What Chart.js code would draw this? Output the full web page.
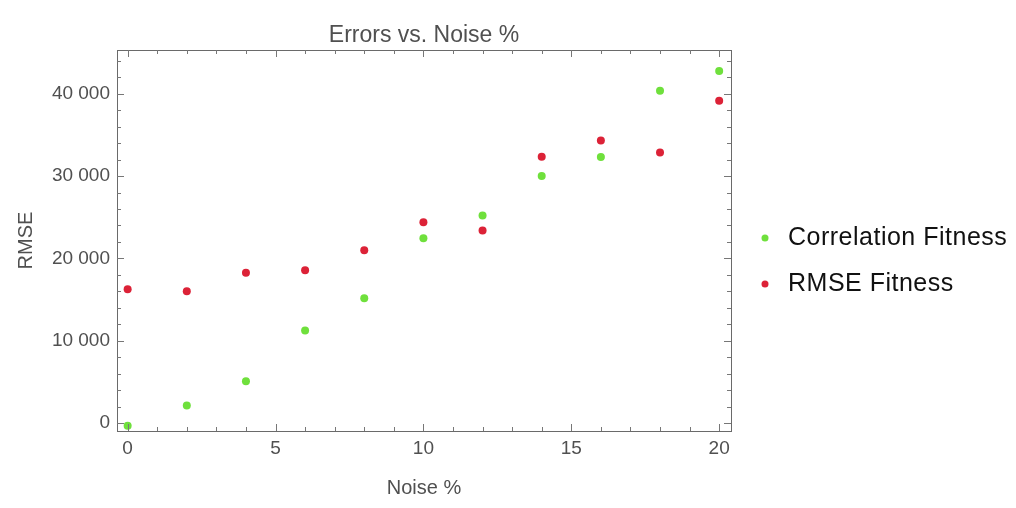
<!DOCTYPE html>
<html>
<head>
<meta charset="utf-8">
<script src="https://cdn.jsdelivr.net/npm/chart.js@4.4.1/dist/chart.umd.min.js"></script>
<style>
  html, body { margin: 0; padding: 0; background: #fff; }
  #wrap { width: 1016px; height: 508px; }
</style>
</head>
<body>
<div id="wrap"><canvas id="grafico" width="1016" height="508"></canvas></div>
<script>
// dados
const ruido = [0, 2, 4, 6, 8, 10, 12, 14, 16, 18, 20];
const correlacaoFitness = [-300, 2150, 5100, 11250, 15150, 22450, 25200, 30000, 32300, 40350, 42750];
const rmseFitness = [16250, 16000, 18250, 18550, 21000, 24400, 23400, 32350, 34300, 32850, 39150];
const nomesSeries = ['Correlation Fitness', 'RMSE Fitness'];
const coresSeries = ['#6fe03c', '#dc2237'];
const ticksX = [0, 5, 10, 15, 20];
const ticksY = [0, 10000, 20000, 30000, 40000];

const cinza = '#505050';
const fonte = 'Liberation Sans, Arial, sans-serif';

function pontos(valores) {
    return ruido.map((x, i) => ({ x: x, y: valores[i] }));
}

// moldura, marcas internas, título e legenda (estilo Mathematica)
const molduraPlugin = {
    id: 'moldura',
    afterDraw(chart) {
        const ctx = chart.ctx;
        const area = chart.chartArea;
        const sx = chart.scales.x;
        const sy = chart.scales.y;
        ctx.save();
        ctx.strokeStyle = '#6a6a6a';
        ctx.lineWidth = 1;
        ctx.strokeRect(area.left + 0.5, area.top + 0.5, area.right - area.left, area.bottom - area.top);

        ctx.strokeStyle = '#777';
        // marcas do eixo x (maiores a cada 5, menores a cada 1)
        for (let v = 0; v <= 20; v++) {
            const px = Math.round(sx.getPixelForValue(v)) + 0.5;
            const len = v % 5 === 0 ? 7 : 4;
            ctx.beginPath();
            ctx.moveTo(px, area.bottom);
            ctx.lineTo(px, area.bottom - len);
            ctx.moveTo(px, area.top);
            ctx.lineTo(px, area.top + len);
            ctx.stroke();
        }
        // marcas do eixo y (maiores a cada 10000, menores a cada 2000)
        for (let v = 0; v <= 44000; v += 2000) {
            const py = Math.round(sy.getPixelForValue(v)) + 0.5;
            const len = v % 10000 === 0 ? 7 : 4;
            ctx.beginPath();
            ctx.moveTo(area.left, py);
            ctx.lineTo(area.left + len, py);
            ctx.moveTo(area.right, py);
            ctx.lineTo(area.right - len, py);
            ctx.stroke();
        }

        // título
        ctx.fillStyle = cinza;
        ctx.font = '23px ' + fonte;
        ctx.textAlign = 'center';
        ctx.textBaseline = 'middle';
        ctx.fillText('Errors vs. Noise %', (area.left + area.right) / 2, 36);

        // legenda
        ctx.textAlign = 'left';
        ctx.font = '25px ' + fonte;
        ctx.letterSpacing = '0.5px';
        nomesSeries.forEach((nome, i) => {
            const y = 238 + i * 46;
            ctx.fillStyle = coresSeries[i];
            ctx.beginPath();
            ctx.arc(765, y, 3.5, 0, Math.PI * 2);
            ctx.fill();
            ctx.fillStyle = '#111';
            ctx.fillText(nome, 788, y);
        });
        ctx.restore();
    }
};

const ctx = document.getElementById('grafico').getContext('2d');
const grafico = new Chart(ctx, {
    type: 'scatter',
    data: {
        datasets: [
            {
                label: nomesSeries[0],
                data: pontos(correlacaoFitness),
                backgroundColor: coresSeries[0],
                borderColor: coresSeries[0],
                pointRadius: 4,
                pointBorderWidth: 0
            },
            {
                label: nomesSeries[1],
                data: pontos(rmseFitness),
                backgroundColor: coresSeries[1],
                borderColor: coresSeries[1],
                pointRadius: 4,
                pointBorderWidth: 0
            }
        ]
    },
    options: {
        responsive: false,
        animation: false,
        devicePixelRatio: 1,
        layout: { padding: { left: 0, right: 285, top: 50, bottom: 0 } },
        plugins: {
            legend: { display: false },
            title: { display: false },
            tooltip: { enabled: false }
        },
        scales: {
            x: {
                type: 'linear',
                min: -0.36,
                max: 20.4,
                border: { display: false },
                grid: { display: false, drawTicks: false },
                afterBuildTicks(scale) { scale.ticks = ticksX.map(v => ({ value: v })); },
                ticks: {
                    color: cinza,
                    font: { family: fonte, size: 19 },
                    padding: 6
                },
                title: {
                    display: true,
                    text: 'Noise %',
                    color: cinza,
                    font: { family: fonte, size: 20 },
                    padding: { top: 10, bottom: 8 }
                },
                afterFit(scale) { scale.height = 77; }
            },
            y: {
                type: 'linear',
                min: -950,
                max: 45300,
                border: { display: false },
                grid: { display: false, drawTicks: false },
                afterBuildTicks(scale) { scale.ticks = ticksY.map(v => ({ value: v })); },
                ticks: {
                    color: cinza,
                    font: { family: fonte, size: 19 },
                    padding: 7,
                    callback: v => String(v).replace(/\B(?=(\d{3})+(?!\d))/g, ' ')
                },
                title: {
                    display: true,
                    text: 'RMSE',
                    color: cinza,
                    font: { family: fonte, size: 20 },
                    padding: { top: 14, bottom: 6 }
                },
                afterFit(scale) { scale.width = 117; }
            }
        }
    },
    plugins: [molduraPlugin]
});
</script>
</body>
</html>
